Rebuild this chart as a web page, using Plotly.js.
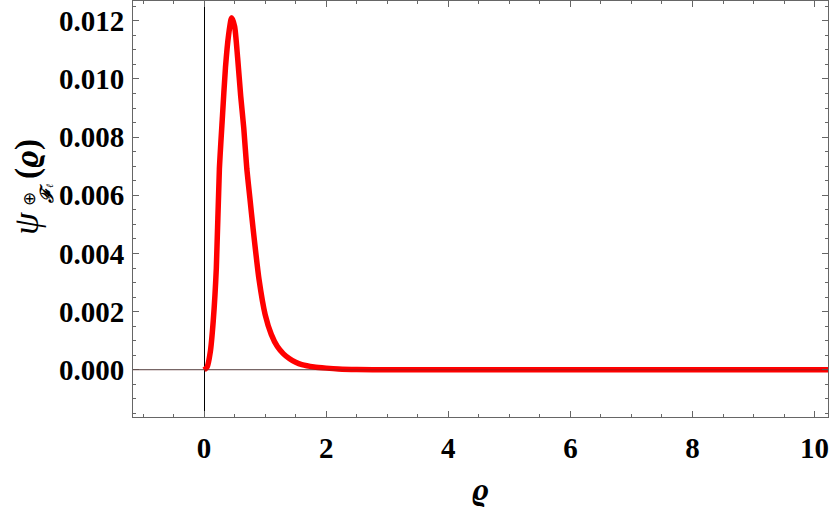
<!DOCTYPE html>
<html>
<head>
<meta charset="utf-8">
<script src="https://cdn.plot.ly/plotly-3.0.1.min.js"></script>
<style>html,body{margin:0;padding:0;background:#fff;}#chart{width:830px;height:511px;}</style>
</head>
<body>
<div id="chart"></div>
<script>
// Data
const rho = [0, 0.05, 0.1, 0.15, 0.2, 0.25, 0.3, 0.35, 0.4, 0.45, 0.5, 0.55, 0.6, 0.65, 0.7, 0.75, 0.8, 0.9, 1.0, 1.1, 1.2, 1.3, 1.4, 1.5, 1.6, 1.8, 2.0, 2.2, 2.5, 3, 4, 5, 6, 7, 8, 9, 10, 10.3];
const psi = [0, 0.0001, 0.0006, 0.0017, 0.0035, 0.0069, 0.0087, 0.0104, 0.0115, 0.0121, 0.0118, 0.0107, 0.0094, 0.0083, 0.0069, 0.0059, 0.0049, 0.0031, 0.0019, 0.00122, 0.0008, 0.00055, 0.00038, 0.00026, 0.00018, 0.0001, 0.00006, 0.00003, 0.00001, 0.000003, 0, 0, 0, 0, 0, 0, 0, 0];
const xTicks = [0, 2, 4, 6, 8, 10];
const yTicks = [0, 0.002, 0.004, 0.006, 0.008, 0.010, 0.012];

const serif = 'Liberation Serif, DejaVu Serif, serif';
const tickFont = {family: serif, size: 29, color: '#000', weight: 'bold'};

const trace = {
  x: rho, y: psi, type: 'scatter', mode: 'lines',
  line: {color: '#ff0000', width: 5.5, shape: 'spline', smoothing: 0.6},
  hoverinfo: 'skip'
};

const axisCommon = {
  showgrid: false, showline: true, linecolor: '#666', linewidth: 1,
  mirror: 'ticks', ticks: 'inside', tickcolor: '#666', ticklen: 6, tickwidth: 1,
  tickfont: tickFont
};

const ann = (text, xs, ys, font) => ({
  text: text, xref: 'paper', yref: 'paper', x: 0, y: 0.5, xshift: xs, yshift: ys,
  xanchor: 'center', yanchor: 'middle', showarrow: false, textangle: -90, font: font
});

const layout = {
  width: 830, height: 511,
  margin: {l: 133, r: 2, t: 1, b: 94, pad: 0},
  paper_bgcolor: '#fff', plot_bgcolor: '#fff',
  showlegend: false,
  xaxis: Object.assign({}, axisCommon, {
    range: [-1.165, 10.22], tickvals: xTicks, ticktext: xTicks.map(String),
    zeroline: true, zerolinecolor: '#000', zerolinewidth: 1,
    minor: {dtick: 0.5, tick0: 0, ticklen: 3, tickcolor: '#666', ticks: 'inside'},
    ticklabelstandoff: 5,
    title: {text: '<b><i>ϱ</i></b>', font: {family: serif, size: 32, color: '#000'}, standoff: 14}
  }),
  yaxis: Object.assign({}, axisCommon, {
    range: [-0.00162, 0.01268], tickvals: yTicks, ticktext: yTicks.map(v => v.toFixed(3)),
    zeroline: true, zerolinecolor: '#888', zerolinewidth: 1,
    minor: {dtick: 0.0005, tick0: 0, ticklen: 3, tickcolor: '#666', ticks: 'inside'},
    ticklabelstandoff: 2
  }),
  shapes: [
    {type: 'line', xref: 'paper', x0: 0, x1: 1, yref: 'y', y0: 0, y1: 0, layer: 'above',
     line: {color: 'rgba(90,40,40,0.55)', width: 1}}
  ],
  annotations: [
    ann('<i>ψ</i>', -107, -15, {family: serif, size: 36, color: '#000'}),
    ann('⊕', -104, 10, {family: 'DejaVu Sans, sans-serif', size: 17, color: '#000'}),
    ann('<b><i>ℱ</i></b><span style="font-size:10px"><i>ℓ</i></span>', -86, 15, {family: serif, size: 18, color: '#000'}),
    ann('<b>(<i>ϱ</i>)</b>', -106, 50, {family: serif, size: 33, color: '#000'})
  ]
};

Plotly.newPlot('chart', [trace], layout, {displayModeBar: false, staticPlot: true});
</script>
</body>
</html>
